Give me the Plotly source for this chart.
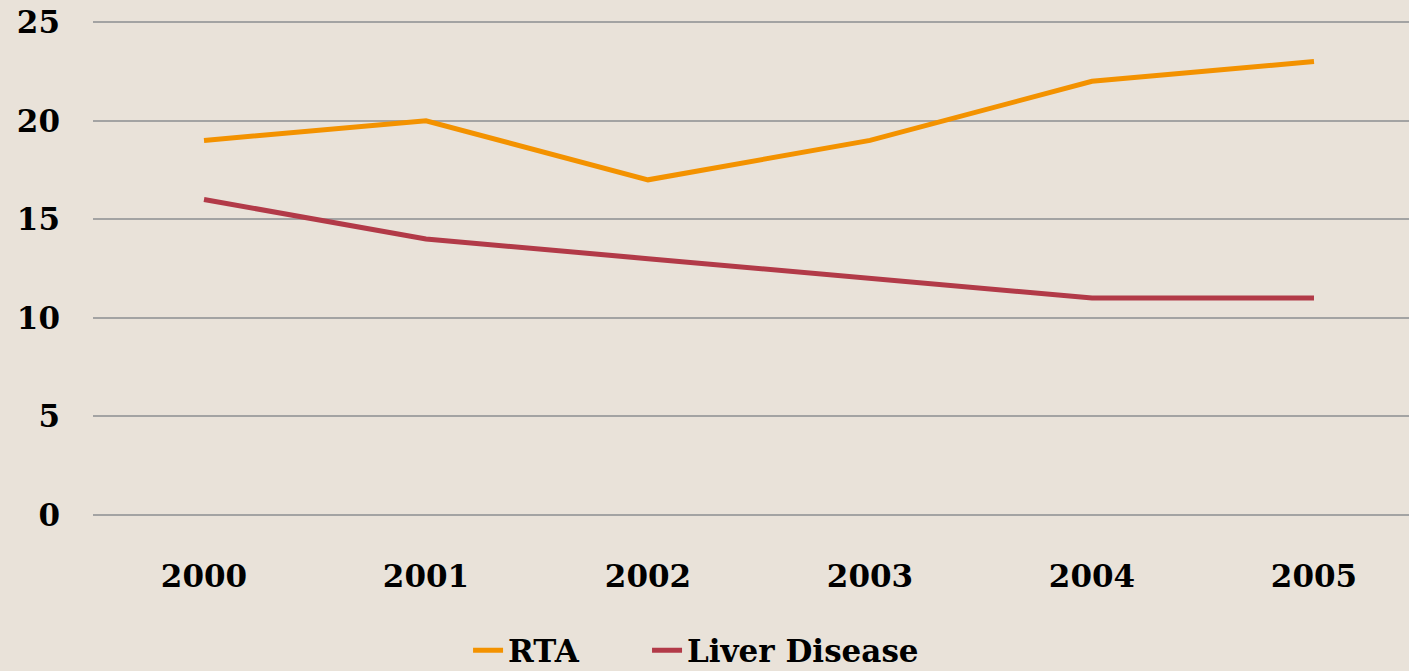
import plotly.graph_objects as go

years = ["2000", "2001", "2002", "2003", "2004", "2005"]
rta = [19, 20, 17, 19, 22, 23]
liver = [16, 14, 13, 12, 11, 11]
y_ticks = [0, 5, 10, 15, 20, 25]

FONT = "DejaVu Serif"
BG = "#E9E2D9"

fig = go.Figure()
fig.add_trace(go.Scatter(x=years, y=rta, mode="lines", name="RTA", legend="legend",
                         line=dict(color="#F39200", width=5)))
fig.add_trace(go.Scatter(x=years, y=liver, mode="lines", name="Liver Disease", legend="legend2",
                         line=dict(color="#B23A48", width=5)))

legend_font = dict(family=FONT, size=31, color="black", weight="bold")
fig.update_layout(
    width=1409, height=671,
    paper_bgcolor=BG, plot_bgcolor=BG,
    margin=dict(l=93, r=0, t=21, b=155, autoexpand=False),
    font=dict(family=FONT, color="black", size=31, weight="bold"),
    showlegend=True,
    legend=dict(orientation="h", x=0.285, xanchor="left", y=-0.272, yanchor="middle",
                font=legend_font, bgcolor="rgba(0,0,0,0)"),
    legend2=dict(orientation="h", x=0.421, xanchor="left", y=-0.272, yanchor="middle",
                 font=legend_font, bgcolor="rgba(0,0,0,0)"),
)
fig.update_xaxes(type="category", range=[-0.5, 5.428], showgrid=False,
                 showline=False, zeroline=False, ticks="",
                 ticklabelstandoff=39,
                 tickfont=dict(family=FONT, size=31, color="black", weight="bold"))
fig.update_yaxes(range=[-0.06, 25.06], tickvals=y_ticks, ticktext=[str(v) for v in y_ticks],
                 showgrid=True, gridcolor="#A3A3A3", gridwidth=2,
                 zeroline=False, showline=False, ticks="",
                 ticklabelstandoff=32,
                 tickfont=dict(family=FONT, size=31, color="black", weight="bold"))

fig.write_html("out.html", config={"displayModeBar": False},
               post_script="document.body.style.margin='0';")
